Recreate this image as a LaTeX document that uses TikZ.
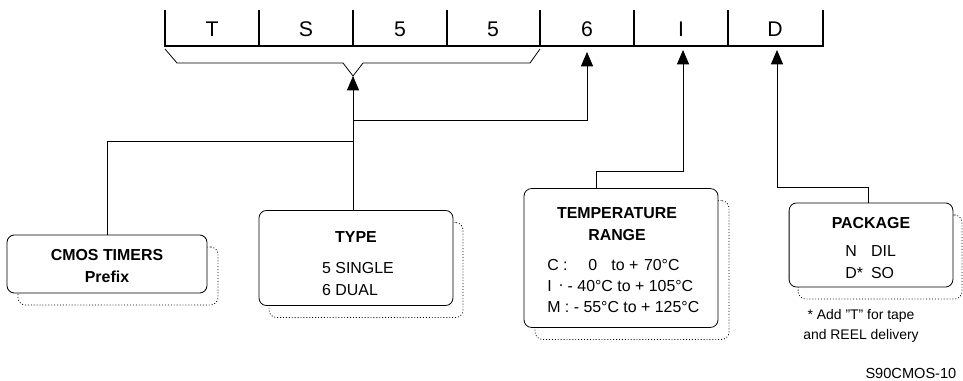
\documentclass[tikz,border=0pt]{standalone}
\usepackage{fontspec}
\setmainfont{Liberation Sans}
\usepackage{tikz}
\usetikzlibrary{arrows.meta,positioning,calc}

\begin{document}
\begin{tikzpicture}[
    x=0.265mm, y=-0.265mm,
    frontbox/.style={draw, line width=0.6pt, rounded corners=2mm, fill=white, inner sep=0pt},
    backbox/.style={draw, line width=0.6pt, dash pattern=on 0.7pt off 1.5pt, rounded corners=2mm, inner sep=0pt},
    hdr/.style={font=\bfseries\fontsize{12}{16.5}\selectfont, align=center},
    txt/.style={font=\fontsize{12}{16.5}\selectfont, align=left, inner sep=0pt},
    codechar/.style={font=\fontsize{16}{18}\selectfont},
    conn/.style={line width=0.6pt, -{Triangle[length=3.8mm, width=3.2mm]}},
    note/.style={font=\fontsize{10.5}{15.5}\selectfont, align=center}
]
    \useasboundingbox (0,0) rectangle (963,381);

    % part number cells
    \draw[line width=1.1pt] (165,10) |- (823,46) -- (823,10);
    \foreach \x in {259,353,447,540,634,728}
        \draw[line width=1.1pt] (\x,10) -- (\x,46);
    \node[codechar] (cT)  at (212,29) {T};
    \node[codechar] (cS)  at (306,29) {S};
    \node[codechar] (c5a) at (400,29) {5};
    \node[codechar] (c5b) at (493,29) {5};
    \node[codechar] (c6)  at (587,29) {6};
    \node[codechar] (cI)  at (681,29) {I};
    \node[codechar] (cD)  at (775,29) {D};

    % brace under the prefix
    \coordinate (apex) at (353,76);
    \draw[line width=0.6pt] (165,49) -- (177,63) -- (343,63) -- (apex) -- (363,63) -- (530,63) -- (540,49);
    \coordinate (tip6) at (587,52);
    \coordinate (tipI) at (683,50);
    \coordinate (tipD) at (777,50);

    % boxes (dotted copy behind)
    \node[backbox, minimum width=53mm, minimum height=15.4mm] (cmosS) at (118,276) {};
    \node[frontbox, minimum width=53mm, minimum height=15.4mm] (cmos) at (107,264) {};
    \node[backbox, minimum width=51.4mm, minimum height=25.2mm] (typeS) at (366,270) {};
    \node[frontbox, minimum width=51.4mm, minimum height=25.2mm] (type) at (356,258) {};
    \node[backbox, minimum width=51.4mm, minimum height=36.8mm] (tempS) at (632,270) {};
    \node[frontbox, minimum width=51.4mm, minimum height=36.8mm] (temp) at (621,258) {};
    \node[backbox, minimum width=43.4mm, minimum height=22.3mm] (pkgS) at (880,257) {};
    \node[frontbox, minimum width=43.4mm, minimum height=22.3mm] (pkg) at (871,245) {};

    \node[hdr] (cmosT) at (107,266) {CMOS TIMERS\\Prefix};
    \node[hdr] (typeT) at (356,237) {TYPE};
    \node[txt] (typeL) at (358,279) {5 SINGLE\\6 DUAL};
    \node[hdr] (tempT) at (617,224) {TEMPERATURE\\RANGE};
    \node[txt, anchor=west, font=\fontsize{12}{15.8}\selectfont] (tempL) at (547,286)
        {C :\hspace{1.3em}0\hspace{0.9em}to +\hspace{0.35em}70°C\\
         I\hspace{0.45em}\raisebox{0.55ex}{.} - 40°C to + 105°C\\
         M : - 55°C to + 125°C};
    \node[hdr] (pkgT) at (871,223) {PACKAGE};
    \node[txt, anchor=west] (pkgL) at (845,262.5)
        {\makebox[19.5pt][l]{N}DIL\\\makebox[19.5pt][l]{D*}SO};

    \node[note] (star) at (861,326) {* Add \char34 T\char34\ for tape\\and REEL delivery};
    \node[font=\fontsize{11}{13}\selectfont, anchor=east] (ref) at (961,373) {S90CMOS-10};

    % connectors
    \draw[conn] (cmos.north) -- ++(0,-93) -| (apex);
    \draw[conn] (type.north -| apex) -- ++(0,-90) -| (tip6);
    \draw[conn] ([xshift=-6.6mm]temp.north) -- ++(0,-17) -| (tipI);
    \draw[conn] ([xshift=-0.8mm]pkg.north) -- ++(0,-15) -| (tipD);
\end{tikzpicture}
\end{document}
